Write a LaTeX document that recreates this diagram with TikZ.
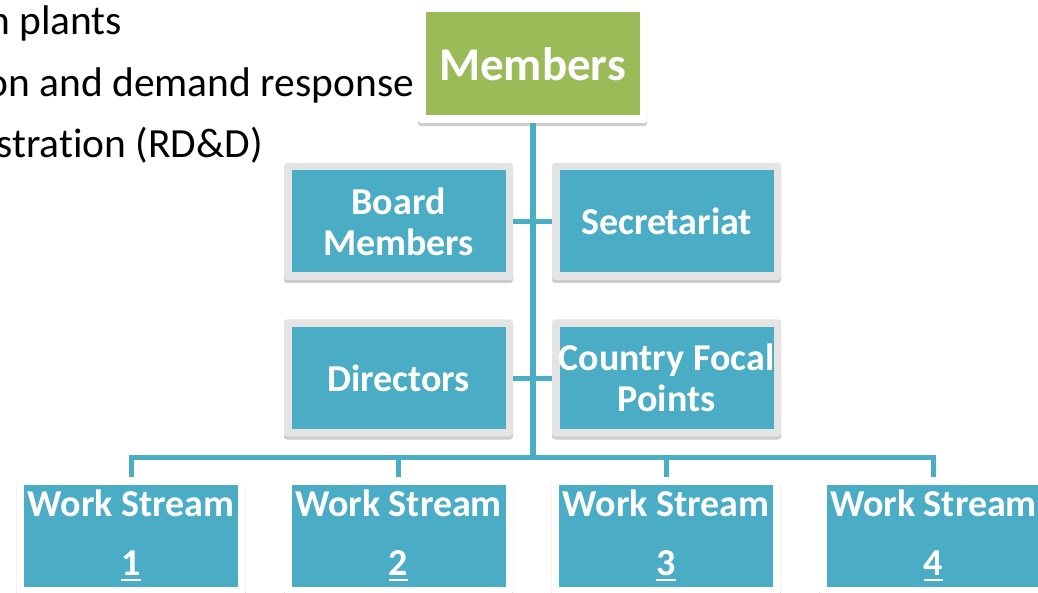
\documentclass[tikz,border=0pt]{standalone}
\usepackage{fontspec}
\setmainfont{Carlito}[Ligatures=NoCommon]
\usetikzlibrary{shadows}
\definecolor{tealfive}{HTML}{4BACC6}
\definecolor{greenthree}{HTML}{9BBB59}
\definecolor{framegray}{HTML}{E4E4E4}
\newcommand\ulnum[1]{\setbox0\hbox{#1}\rlap{\rule[-5pt]{\wd0}{2.3pt}}\box0}
\begin{document}
\begin{tikzpicture}[x=1pt,y=-1pt,
  boxbase/.style={minimum width=229pt, minimum height=117pt, inner sep=0pt, outer sep=0pt,
    rounded corners=3pt, text=white, align=center,
    font=\bfseries\fontsize{38}{41}\selectfont,
    drop shadow={shadow xshift=0pt, shadow yshift=-3pt, opacity=0.28, fill=black!70}},
  innerfill/.style={path picture={\fill[#1, sharp corners]
      ([xshift=7.5pt,yshift=-7.5pt]path picture bounding box.north west) rectangle
      ([xshift=-7.5pt,yshift=7.5pt]path picture bounding box.south east);}},
  tealbox/.style={boxbase, fill=framegray, innerfill=tealfive},
  wsbox/.style={boxbase, fill=white, innerfill=tealfive, font=\bfseries\fontsize{38}{59}\selectfont},
  topbox/.style={boxbase, fill=white, innerfill=greenthree, minimum height=118pt,
    font=\bfseries\fontsize{47}{50}\selectfont},
  lefttext/.style={inner sep=0pt, outer sep=0pt, text=black, font=\fontsize{41.5}{48}\selectfont, anchor=base east},
  conn/.style={draw=tealfive, line width=5pt}
]
\useasboundingbox (0,0) rectangle (1038,593);
\fill[white] (0,0) rectangle (1038,593);
\begin{scope}
\clip (0,0) rectangle (1038,593);
\node[lefttext] (l1) at (122,35) {n plants};
\node[lefttext] (l2) at (414,97) {on and demand response};
\node[lefttext] (l3) at (263,158) {stration (RD\&D)};

\node[topbox] (mem) at (532.5,64) {Members};
\node[tealbox] (board) at (398.5,221.5) {Board\\Members};
\node[tealbox] (sec) at (666.5,221.5) {Secretariat};
\node[tealbox] (dir) at (398.5,378) {Directors};
\node[tealbox] (cfp) at (666.5,378) {Country Focal\\Points};
\node[wsbox] (ws1) at (131,535.5) {Work Stream\\\ulnum{1}};
\node[wsbox] (ws2) at (398.5,535.5) {Work Stream\\\ulnum{2}};
\node[wsbox] (ws3) at (666,535.5) {Work Stream\\\ulnum{3}};
\node[wsbox] (ws4) at (933.5,535.5) {Work Stream\\\ulnum{4}};

\coordinate (bus) at (532.5,457.5);
\draw[conn, line width=6pt] (mem.south) -- (bus);
\draw[conn] (board.east) -- (sec.west);
\draw[conn] (dir.east) -- (cfp.west);
\draw[conn] (ws1.north) |- (bus) -| (ws4.north);
\draw[conn] (ws2.north) -- (ws2.north |- bus);
\draw[conn] (ws3.north) -- (ws3.north |- bus);
\end{scope}
\end{tikzpicture}
\end{document}
